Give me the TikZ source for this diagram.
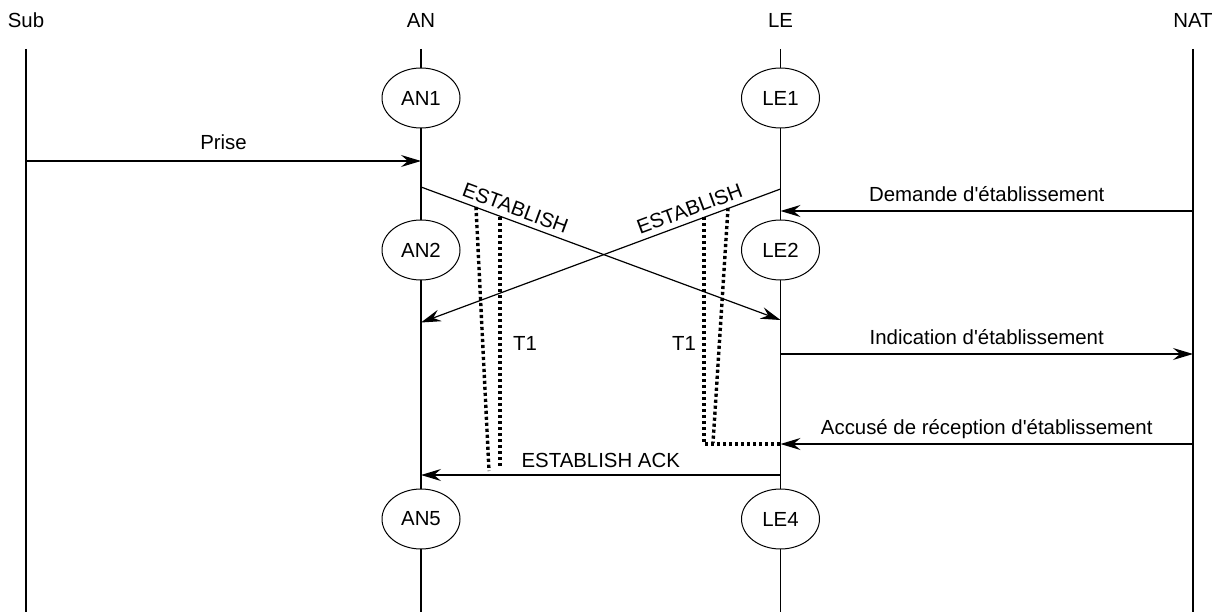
\documentclass[tikz,border=0pt]{standalone}
\usepackage{fontspec}
\setmainfont{Liberation Sans}[Ligatures=TeXOff]
\usetikzlibrary{arrows.meta,shapes.geometric}

\begin{document}
\begin{tikzpicture}[x=0.5pt,y=-0.5pt,
  font=\fontsize{10.2}{12}\selectfont,
  lifeline/.style={line width=0.6pt},
  state/.style={ellipse,draw,fill=white,line width=0.5pt,inner sep=0pt,
    minimum width=39pt,minimum height=30pt},
  head/.style={inner sep=0pt},
  msg/.style={line width=0.6pt,-{Stealth[length=10pt,width=6pt,inset=3.5pt]}},
  msglabel/.style={anchor=base,inner sep=0pt,yshift=5pt},
  timer/.style={line width=1.7pt,dash pattern=on 1.6pt off 1.4pt}]

  \useasboundingbox (0,0) rectangle (1227,615);

  % lifeline heads
  \node[head] (sub) at (26,20) {Sub};
  \node[head] (an)  at (421,20) {AN};
  \node[head] (le)  at (780.5,20) {LE};
  \node[head] (nat) at (1193,20) {NAT};

  % lifeline ends
  \coordinate (subT) at (26,49);   \coordinate (subB) at (26,612);
  \coordinate (anT)  at (421,49);  \coordinate (anB)  at (421,612);
  \coordinate (leT)  at (780.5,49); \coordinate (leB)  at (780.5,612);
  \coordinate (natT) at (1193,49); \coordinate (natB) at (1193,612);

  \draw[lifeline] (subT) -- (subB);
  \draw[lifeline] (anT) -- (anB);
  \draw[lifeline] (leT) -- (leB);
  \draw[lifeline] (natT) -- (natB);

  % states
  \node[state] (an1) at (421,98)  {AN1};
  \node[state] (le1) at (780.5,98) {LE1};
  \node[state] (an2) at (421,250) {AN2};
  \node[state] (le2) at (780.5,250) {LE2};
  \node[state] (an5) at (421,519) {AN5};
  \node[state] (le4) at (780.5,519) {LE4};

  % message end points on the lifelines
  \coordinate (subPrise) at (26,161);
  \coordinate (anPrise)  at (421,161);
  \coordinate (anEst)    at (421,187);
  \coordinate (leEstIn)  at (780.5,320);
  \coordinate (leEst)    at (780.5,189);
  \coordinate (anEstIn)  at (421,322.5);
  \coordinate (natDem)   at (1193,211);
  \coordinate (leDem)    at (780.5,211);
  \coordinate (leInd)    at (780.5,354);
  \coordinate (natInd)   at (1193,354);
  \coordinate (natAcc)   at (1193,444);
  \coordinate (leAcc)    at (780.5,444);
  \coordinate (leAck)    at (780.5,475);
  \coordinate (anAck)    at (421,475);

  % messages
  \draw[msg] (subPrise) -- node[msglabel,yshift=1pt] (lprise) {Prise} (anPrise);
  \draw[msg] (anEst) -- node[pos=0.25,sloped,above,inner sep=2.6pt] (lest1) {ESTABLISH} (leEstIn);
  \draw[msg] (leEst) -- node[pos=0.24,sloped,above,inner sep=2.6pt] (lest2) {ESTABLISH} (anEstIn);
  \draw[msg] (natDem) -- node[msglabel] (ldem) {Demande d'établissement} (leDem);
  \draw[msg] (leInd) -- node[msglabel] (lind) {Indication d'établissement} (natInd);
  \draw[msg] (natAcc) -- node[msglabel] (lacc) {Accusé de réception d'établissement} (leAcc);
  \draw[msg] (leAck) -- node[msglabel,yshift=-1pt] (lack) {ESTABLISH ACK} (anAck);

  % timers T1
  \coordinate (t1aTop) at (476,207);  \coordinate (t1aBot) at (489,471);
  \coordinate (t1bTop) at (500,217);  \coordinate (t1bBot) at (500,467);
  \coordinate (t2aTop) at (728,208);  \coordinate (t2aBot) at (713,443);
  \coordinate (t2bTop) at (704,217);  \coordinate (t2bBot) at (704,444);

  \draw[timer] (t1aTop) -- (t1aBot);
  \draw[timer] (t1bTop) -- (t1bBot);
  \draw[timer] (t2aTop) -- (t2aBot);
  \draw[timer] (t2bTop) -- (t2bBot) -- (leAcc);

  \node[head] (t1a) at (525,343) {T1};
  \node[head] (t1b) at (684,343) {T1};
\end{tikzpicture}
\end{document}
